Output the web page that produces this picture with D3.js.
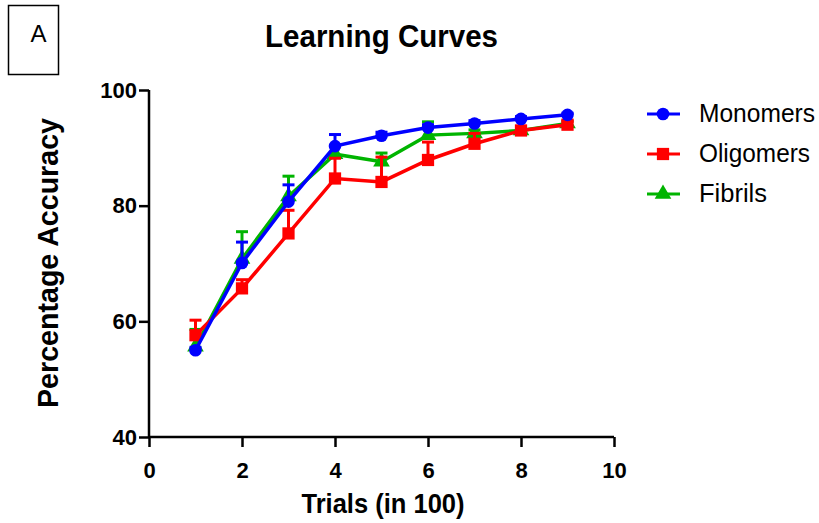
<!DOCTYPE html>
<html><head><meta charset="utf-8">
<script src="https://cdn.jsdelivr.net/npm/d3@7"></script>
<style>body{margin:0;background:#fff}svg{display:block}text{font-family:"Liberation Sans",Arial,sans-serif}</style>
</head><body>
<svg id="c" width="819" height="523"></svg>
<script>
const trials = [1,2,3,4,5,6,7,8,9];
const monomers = [55.0,70.1,80.7,90.3,92.1,93.5,94.2,95.0,95.7];
const monomersErr = [0.5,3.6,2.9,2.0,0.6,0.5,0.5,0.4,0.3];
const oligomers = [57.6,65.7,75.2,84.7,84.1,87.9,90.7,93.0,94.0];
const oligomersErr = [2.6,1.5,4.0,3.5,4.3,3.1,1.8,0.7,0.6];
const fibrils = [55.6,70.8,81.6,88.9,87.6,92.2,92.5,93.0,94.2];
const fibrilsErr = [3.0,4.7,3.5,1.5,1.5,2.3,0.6,0.5,0.4];
const xTicks = [0,2,4,6,8,10];
const yTicks = [40,60,80,100];
const seriesNames = ["Monomers","Oligomers","Fibrils"];
const colors = ["#0000ff","#ff0000","#00b400"];
const shapes = ["circle","square","triangle"];

const svg = d3.select("#c");
const x = d3.scaleLinear().domain([0,10]).range([149,614]);
const y = d3.scaleLinear().domain([40,100]).range([437,90]);

// panel label
svg.append("rect").attr("x",8.5).attr("y",5.5).attr("width",50).attr("height",69)
  .attr("fill","none").attr("stroke","#000").attr("stroke-width",1.5);
svg.append("text").attr("x",38.5).attr("y",42).attr("text-anchor","middle")
  .attr("font-size",24).text("A");

svg.append("text").attr("x",381.5).attr("y",47).attr("text-anchor","middle")
  .attr("font-size",32).attr("font-weight","bold")
  .attr("textLength",233).attr("lengthAdjust","spacingAndGlyphs").text("Learning Curves");

const xAxis = svg.append("g").attr("transform","translate(0,437)")
  .call(d3.axisBottom(x).tickValues(xTicks).tickSize(10).tickPadding(15).tickFormat(d3.format("d")));
const yAxis = svg.append("g").attr("transform","translate(149,0)")
  .call(d3.axisLeft(y).tickValues(yTicks).tickSize(10).tickPadding(2).tickFormat(d3.format("d")));
[xAxis,yAxis].forEach(a=>{
  a.select(".domain").attr("stroke","#000").attr("stroke-width",2.5);
  a.selectAll(".tick line").attr("stroke","#000").attr("stroke-width",2.5);
  a.selectAll(".tick text").attr("font-size",22).attr("font-weight","bold").attr("fill","#000")
   .attr("font-family","'Liberation Sans',Arial,sans-serif");
});
xAxis.select(".domain").attr("d",`M${x(0)},0H${x(10)}`);
yAxis.select(".domain").attr("d",`M0,${y(40)}V${y(100)}`);

svg.append("text").attr("x",383).attr("y",513).attr("text-anchor","middle")
  .attr("font-size",28).attr("font-weight","bold")
  .attr("textLength",163).attr("lengthAdjust","spacingAndGlyphs").text("Trials (in 100)");
svg.append("text").attr("transform","translate(58,263) rotate(-90)").attr("text-anchor","middle")
  .attr("font-size",30).attr("font-weight","bold")
  .attr("textLength",290).attr("lengthAdjust","spacingAndGlyphs").text("Percentage Accuracy");

const data = [monomers,oligomers,fibrils];
const errs = [monomersErr,oligomersErr,fibrilsErr];
const sym = {circle:d3.symbolCircle, square:d3.symbolSquare, triangle:d3.symbolTriangle};
const sizes = {circle:125, square:150, triangle:120};
const line = d3.line().x((d,i)=>x(trials[i])).y(d=>y(d));
const order = [2,1,0];
order.forEach(s=>{
  const g = svg.append("g");
  data[s].forEach((v,i)=>{
    const cx = x(trials[i]), top = y(v+errs[s][i]), mid = y(v);
    g.append("line").attr("x1",cx).attr("x2",cx).attr("y1",top).attr("y2",mid)
      .attr("stroke",colors[s]).attr("stroke-width",3);
    g.append("line").attr("x1",cx-6).attr("x2",cx+6).attr("y1",top).attr("y2",top)
      .attr("stroke",colors[s]).attr("stroke-width",3);
  });
  g.append("path").attr("d",line(data[s])).attr("fill","none").attr("stroke",colors[s]).attr("stroke-width",3.5);
  g.selectAll("path.m").data(data[s]).join("path").attr("class","m")
    .attr("transform",(d,i)=>`translate(${x(trials[i])},${y(d)})`)
    .attr("d",d3.symbol().type(sym[shapes[s]]).size(sizes[shapes[s]])).attr("fill",colors[s]);
});

// legend
const legendWidths = [116,111,68];
seriesNames.forEach((n,i)=>{
  const ly = 114 + i*40;
  svg.append("line").attr("x1",647).attr("x2",680).attr("y1",ly).attr("y2",ly)
    .attr("stroke",colors[i]).attr("stroke-width",3);
  svg.append("path").attr("transform",`translate(663,${ly})`)
    .attr("d",d3.symbol().type(sym[shapes[i]]).size(sizes[shapes[i]])).attr("fill",colors[i]);
  svg.append("text").attr("x",699).attr("y",ly+8).attr("font-size",25)
    .attr("textLength",legendWidths[i]).attr("lengthAdjust","spacingAndGlyphs").text(n);
});
</script>
</body></html>
